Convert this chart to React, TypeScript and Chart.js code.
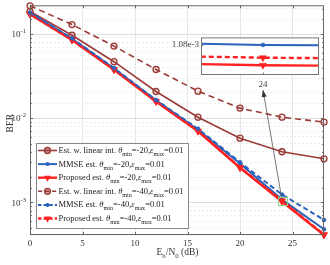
import React, { useEffect, useRef } from 'react';
import { Chart, registerables } from 'chart.js';

Chart.register(...registerables);

// ---------- data ----------
const snr = [0, 4, 8, 12, 16, 20, 24, 28];
const linInt20 = [0.186, 0.097, 0.047, 0.0208, 0.0103, 0.0058, 0.004, 0.0033];
const mmse20 = [0.18, 0.088, 0.039, 0.0163, 0.0073, 0.0029, 0.00108, 0.00048];
const prop20 = [0.172, 0.085, 0.0377, 0.0158, 0.007, 0.00258, 0.001026, 0.00041];
const linInt40 = [0.217, 0.13, 0.072, 0.038, 0.021, 0.0132, 0.0103, 0.009];
const mmse40 = [0.18, 0.089, 0.0395, 0.0165, 0.0075, 0.003, 0.00124, 0.00062];
const prop40 = [0.173, 0.0855, 0.038, 0.0159, 0.00705, 0.0026, 0.001046, 0.000415];

const xTickValues = [0, 5, 10, 15, 20, 25];
const yDecades = [1e-1, 1e-2, 1e-3];
const yDecadeExp = ['-1', '-2', '-3'];
const insetXTicks = [24];
const insetYTicks = [1.08e-3];
const insetYLabels = ['1.08e-3'];

const legendMethods = ['Est. w. linear int. ', 'MMSE est. ', 'Proposed est. ', 'Est. w. linear int. ', 'MMSE est. ', 'Proposed est. '];
const legendTheta = ['-20', '-20', '-20', '-40', '-40', '-40'];
const legendEps = ['0.01', '0.01', '0.01', '0.01', '0.01', '0.01'];

// ---------- styles ----------
const BROWN = '#9A3B38';
const BLUE = '#2A62BC';
const RED = '#FF2222';
const SERIF = "'Liberation Serif', 'Times New Roman', serif";

type Style = { color: string; width: number; dash: number[]; marker: 'circle' | 'dot' | 'tri'; order: number };
const series: { values: number[]; style: Style }[] = [
  { values: linInt20, style: { color: BROWN, width: 1.6, dash: [], marker: 'circle', order: 4 } },
  { values: mmse20, style: { color: BLUE, width: 2, dash: [], marker: 'dot', order: 3 } },
  { values: prop20, style: { color: RED, width: 2.4, dash: [], marker: 'tri', order: 1 } },
  { values: linInt40, style: { color: BROWN, width: 1.6, dash: [6, 4], marker: 'circle', order: 5 } },
  { values: mmse40, style: { color: BLUE, width: 2, dash: [5, 3], marker: 'dot', order: 0 } },
  { values: prop40, style: { color: RED, width: 2.4, dash: [5, 3], marker: 'tri', order: 2 } },
];

function toPoints(vals: number[]) {
  return snr.map((x, i) => ({ x, y: vals[i] }));
}

function makeDataset(s: { values: number[]; style: Style }, clip: boolean) {
  const st = s.style;
  const base: any = {
    data: toPoints(s.values),
    borderColor: st.color,
    borderWidth: st.width,
    borderDash: st.dash,
    order: st.order,
    pointBorderColor: st.color,
    fill: false,
    tension: 0,
  };
  if (!clip) base.clip = false;
  if (st.marker === 'circle') {
    base.pointStyle = 'circle';
    base.pointRadius = 3;
    base.pointBorderWidth = 1.3;
    base.pointBackgroundColor = 'rgba(154,59,56,0.12)';
  } else if (st.marker === 'dot') {
    base.pointStyle = 'circle';
    base.pointRadius = 2;
    base.pointBorderWidth = 0.5;
    base.pointBackgroundColor = st.color;
  } else {
    base.pointStyle = 'triangle';
    base.rotation = 180;
    base.pointRadius = 4;
    base.pointBorderWidth = 0.5;
    base.pointBackgroundColor = st.color;
  }
  return base;
}

type Part = [string, 'n' | 'i' | 's'];
function setFont(ctx: CanvasRenderingContext2D, kind: string, size: number) {
  if (kind === 's') ctx.font = `${(size * 0.72).toFixed(2)}px ${SERIF}`;
  else if (kind === 'i') ctx.font = `italic ${size}px ${SERIF}`;
  else ctx.font = `${size}px ${SERIF}`;
}
function measureRich(ctx: CanvasRenderingContext2D, parts: Part[], size: number) {
  let w = 0;
  for (const [t, k] of parts) {
    setFont(ctx, k, size);
    w += ctx.measureText(t).width;
  }
  return w;
}
function drawRich(ctx: CanvasRenderingContext2D, parts: Part[], x: number, y: number, size: number) {
  let cx = x;
  ctx.textAlign = 'left';
  ctx.textBaseline = 'alphabetic';
  for (const [t, k] of parts) {
    setFont(ctx, k, size);
    ctx.fillText(t, cx, k === 's' ? y + size * 0.36 : y);
    cx += ctx.measureText(t).width;
  }
}

function drawMarker(ctx: CanvasRenderingContext2D, st: Style, x: number, y: number) {
  ctx.save();
  ctx.setLineDash([]);
  ctx.strokeStyle = st.color;
  ctx.fillStyle = st.color;
  if (st.marker === 'circle') {
    ctx.lineWidth = 1.3;
    ctx.fillStyle = 'rgba(154,59,56,0.5)';
    ctx.beginPath();
    ctx.arc(x, y, 3, 0, Math.PI * 2);
    ctx.fill();
    ctx.stroke();
  } else if (st.marker === 'dot') {
    ctx.beginPath();
    ctx.arc(x, y, 2, 0, Math.PI * 2);
    ctx.fill();
  } else {
    const r = 4;
    ctx.beginPath();
    for (let k = 0; k < 3; k++) {
      const a = Math.PI + (k * 2 * Math.PI) / 3;
      const px = x + Math.sin(a) * r;
      const py = y - Math.cos(a) * r;
      if (k === 0) ctx.moveTo(px, py);
      else ctx.lineTo(px, py);
    }
    ctx.closePath();
    ctx.fill();
  }
  ctx.restore();
}

function isDecade(v: number) {
  const l = Math.log10(v);
  return Math.abs(l - Math.round(l)) < 1e-6;
}

const mainDecor = {
  id: 'mainDecor',
  afterDraw(chart: any) {
    const ctx: CanvasRenderingContext2D = chart.ctx;
    const { left, right, top, bottom } = chart.chartArea;
    const xs = chart.scales.x;
    const ys = chart.scales.y;
    ctx.save();
    // box
    ctx.strokeStyle = '#666';
    ctx.lineWidth = 1;
    ctx.setLineDash([]);
    ctx.strokeRect(left + 0.5, top + 0.5, right - left - 1, bottom - top - 1);
    // inward ticks
    ctx.beginPath();
    for (const v of xTickValues) {
      const px = Math.round(xs.getPixelForValue(v)) + 0.5;
      ctx.moveTo(px, bottom);
      ctx.lineTo(px, bottom - 3);
      ctx.moveTo(px, top);
      ctx.lineTo(px, top + 3);
    }
    for (const t of ys.ticks) {
      const py = Math.round(ys.getPixelForValue(t.value)) + 0.5;
      if (py < top + 1 || py > bottom - 1) continue;
      const len = isDecade(t.value) ? 3 : 1.8;
      ctx.moveTo(left, py);
      ctx.lineTo(left + len, py);
      ctx.moveTo(right, py);
      ctx.lineTo(right - len, py);
    }
    ctx.stroke();

    // y tick labels 10^n
    ctx.fillStyle = '#333';
    yDecades.forEach((v, i) => {
      const py = ys.getPixelForValue(v);
      ctx.font = `6.5px ${SERIF}`;
      const sw = ctx.measureText(yDecadeExp[i]).width;
      ctx.font = `9px ${SERIF}`;
      const bw = ctx.measureText('10').width;
      const endX = left - 4;
      ctx.textAlign = 'left';
      ctx.textBaseline = 'alphabetic';
      ctx.font = `9px ${SERIF}`;
      ctx.fillText('10', endX - sw - bw, py + 3.2);
      ctx.font = `6.5px ${SERIF}`;
      ctx.fillText(yDecadeExp[i], endX - sw, py - 0.8);
    });

    // axis titles
    ctx.fillStyle = '#333';
    const xt: Part[] = [['E', 'n'], ['b', 's'], ['/N', 'n'], ['0', 's'], [' (dB)', 'n']];
    const xw = measureRich(ctx, xt, 9.5);
    drawRich(ctx, xt, (left + right) / 2 - xw / 2 + 0.5, 255, 9.5);
    ctx.save();
    ctx.translate(10.5, (top + bottom) / 2 + 3);
    ctx.rotate(-Math.PI / 2);
    ctx.font = `9.5px ${SERIF}`;
    ctx.textAlign = 'center';
    ctx.textBaseline = 'middle';
    ctx.fillText('BER', 0, 0);
    ctx.restore();

    // zoom box & arrow
    const bx = xs.getPixelForValue(24);
    const by = ys.getPixelForValue(1.04e-3);
    ctx.strokeStyle = '#8CCF7E';
    ctx.lineWidth = 1;
    ctx.strokeRect(Math.round(bx - 4.5) + 0.5, Math.round(by - 4) + 0.5, 9, 8);
    const ax0 = bx - 0.5, ay0 = by - 4;
    const ax1 = 263, ay1 = 90;
    ctx.strokeStyle = '#555';
    ctx.lineWidth = 0.8;
    ctx.beginPath();
    ctx.moveTo(ax0, ay0);
    ctx.lineTo(ax1, ay1);
    ctx.stroke();
    const ang = Math.atan2(ay1 - ay0, ax1 - ax0);
    ctx.fillStyle = '#333';
    ctx.beginPath();
    ctx.moveTo(ax1, ay1);
    ctx.lineTo(ax1 - 7 * Math.cos(ang) + 2.5 * Math.sin(ang), ay1 - 7 * Math.sin(ang) - 2.5 * Math.cos(ang));
    ctx.lineTo(ax1 - 7 * Math.cos(ang) - 2.5 * Math.sin(ang), ay1 - 7 * Math.sin(ang) + 2.5 * Math.cos(ang));
    ctx.closePath();
    ctx.fill();

    // legend
    const lx = 36, ly = 143, lw = 152, lh = 85;
    ctx.fillStyle = '#fff';
    ctx.fillRect(lx, ly, lw, lh);
    ctx.strokeStyle = '#888';
    ctx.lineWidth = 1;
    ctx.strokeRect(lx + 0.5, ly + 0.5, lw, lh);
    series.forEach((s, i) => {
      const cy = 150.5 + i * 13.6;
      const st = s.style;
      ctx.save();
      ctx.strokeStyle = st.color;
      ctx.lineWidth = st.width;
      ctx.setLineDash(st.dash.map((d) => d * 0.7));
      ctx.beginPath();
      ctx.moveTo(38, cy);
      ctx.lineTo(57, cy);
      ctx.stroke();
      ctx.restore();
      drawMarker(ctx, st, 47.5, cy);
      ctx.fillStyle = '#222';
      const parts: Part[] = [
        [legendMethods[i], 'n'],
        ['θ', 'i'],
        ['min', 's'],
        ['=' + legendTheta[i] + ',', 'n'],
        ['ε', 'i'],
        ['max', 's'],
        ['=' + legendEps[i], 'n'],
      ];
      drawRich(ctx, parts, 58.5, cy + 2.5, 8.5);
    });
    ctx.restore();
  },
};

const insetDecor = {
  id: 'insetDecor',
  beforeDraw(chart: any) {
    const ctx = chart.ctx;
    const { left, right, top, bottom } = chart.chartArea;
    ctx.save();
    ctx.fillStyle = '#fff';
    ctx.fillRect(left, top, right - left, bottom - top);
    ctx.restore();
  },
  afterDraw(chart: any) {
    const ctx = chart.ctx;
    const { left, right, top, bottom } = chart.chartArea;
    const xs = chart.scales.x;
    const ys = chart.scales.y;
    ctx.save();
    ctx.strokeStyle = '#777';
    ctx.lineWidth = 1;
    ctx.strokeRect(left + 0.5, top + 0.5, right - left - 1, bottom - top - 1);
    ctx.beginPath();
    for (const v of insetXTicks) {
      const px = Math.round(xs.getPixelForValue(v)) + 0.5;
      ctx.moveTo(px, bottom);
      ctx.lineTo(px, bottom - 2.5);
    }
    for (const v of insetYTicks) {
      const py = Math.round(ys.getPixelForValue(v)) + 0.5;
      ctx.moveTo(left, py);
      ctx.lineTo(left + 2.5, py);
    }
    ctx.stroke();
    ctx.restore();
  },
};

export default function App() {
  const mainRef = useRef<HTMLCanvasElement>(null);
  const insetRef = useRef<HTMLCanvasElement>(null);

  useEffect(() => {
    const mainChart = new Chart(mainRef.current as HTMLCanvasElement, {
      type: 'line',
      data: { datasets: series.map((s) => makeDataset(s, false)) },
      options: {
        animation: false,
        responsive: false,
        events: [],
        layout: { padding: { left: 0, right: 6, top: 3, bottom: 0 } },
        plugins: { legend: { display: false }, tooltip: { enabled: false } },
        scales: {
          x: {
            type: 'linear',
            min: 0,
            max: 28,
            afterBuildTicks: (axis: any) => {
              axis.ticks = xTickValues.map((v) => ({ value: v }));
            },
            afterFit: (axis: any) => {
              axis.height = 30;
            },
            ticks: {
              font: { family: SERIF, size: 9 },
              color: '#333',
              padding: 3,
              maxRotation: 0,
              autoSkip: false,
              callback: (v: any) => String(v),
            },
            grid: { color: '#e6e6e6', drawTicks: false, lineWidth: 1 },
            border: { display: false },
          },
          y: {
            type: 'logarithmic',
            min: 4.1e-4,
            max: 0.22,
            afterFit: (axis: any) => {
              axis.width = 30;
            },
            ticks: { display: false, autoSkip: false },
            grid: {
              drawTicks: false,
              lineWidth: 1,
              color: (c: any) => (c.tick && isDecade(c.tick.value) ? '#dedede' : '#ededed'),
            },
            border: {
              display: false,
              dash: (c: any) => (c.tick && !isDecade(c.tick.value) ? [2, 2] : []),
            },
          },
        },
      },
      plugins: [mainDecor],
    } as any);

    const insetSeries = [series[1], series[5], series[2]];
    const insetChart = new Chart(insetRef.current as HTMLCanvasElement, {
      type: 'line',
      data: { datasets: insetSeries.map((s) => makeDataset(s, true)) },
      options: {
        animation: false,
        responsive: false,
        events: [],
        layout: { padding: { left: 0, right: 6, top: 6, bottom: 0 } },
        plugins: { legend: { display: false }, tooltip: { enabled: false } },
        scales: {
          x: {
            type: 'linear',
            min: 23.99958,
            max: 24.00038,
            afterBuildTicks: (axis: any) => {
              axis.ticks = insetXTicks.map((v) => ({ value: v }));
            },
            afterFit: (axis: any) => {
              axis.height = 20;
            },
            ticks: {
              font: { family: SERIF, size: 9 },
              color: '#444',
              padding: 4,
              maxRotation: 0,
              callback: (v: any) => String(Math.round(v)),
            },
            grid: { display: false, drawTicks: false },
            border: { display: false },
          },
          y: {
            type: 'linear',
            min: 1.0e-3,
            max: 1.1e-3,
            afterBuildTicks: (axis: any) => {
              axis.ticks = insetYTicks.map((v) => ({ value: v }));
            },
            afterFit: (axis: any) => {
              axis.width = 51;
            },
            ticks: {
              font: { family: SERIF, size: 9 },
              color: '#444',
              padding: 2,
              callback: (_v: any, i: number) => insetYLabels[i],
            },
            grid: { display: false, drawTicks: false },
            border: { display: false },
          },
        },
      },
      plugins: [insetDecor],
    } as any);

    return () => {
      mainChart.destroy();
      insetChart.destroy();
    };
  }, []);

  return (
    <div style={{ position: 'fixed', left: 0, top: 0, width: 330, height: 265, background: '#fff' }}>
      <canvas ref={mainRef} width={330} height={265} style={{ position: 'absolute', left: 0, top: 0, width: 330, height: 265 }} />
      <canvas ref={insetRef} width={175} height={65} style={{ position: 'absolute', left: 150, top: 30, width: 175, height: 65 }} />
    </div>
  );
}
